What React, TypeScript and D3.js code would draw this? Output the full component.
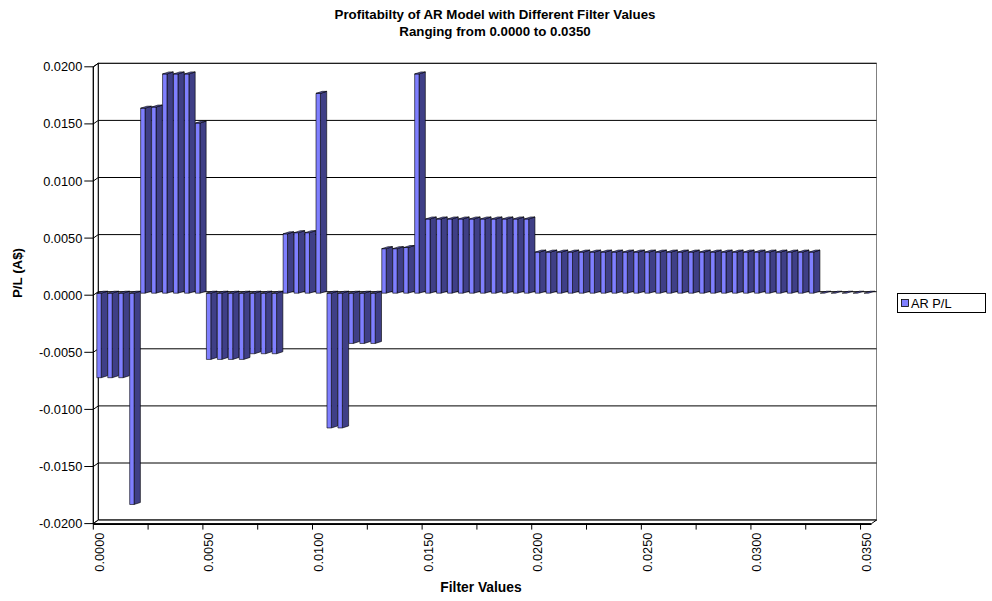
import React from "react";
import * as d3 from "d3";

const categories: string[] = Array.from({ length: 71 }, (_, i) => (i * 0.0005).toFixed(4));
const arPL: number[] = [
  -0.0074, -0.0074, -0.0074, -0.0185, 0.0162, 0.0163, 0.0192, 0.0192, 0.0192, 0.0149,
  -0.0058, -0.0058, -0.0058, -0.0058, -0.0053, -0.0053, -0.0053, 0.0052, 0.0053, 0.0053,
  0.0175, -0.0118, -0.0118, -0.0044, -0.0044, -0.0044, 0.0039, 0.0039, 0.004, 0.0192,
  0.0065, 0.0065, 0.0065, 0.0065, 0.0065, 0.0065, 0.0065, 0.0065, 0.0065, 0.0065,
  0.0036, 0.0036, 0.0036, 0.0036, 0.0036, 0.0036, 0.0036, 0.0036, 0.0036, 0.0036,
  0.0036, 0.0036, 0.0036, 0.0036, 0.0036, 0.0036, 0.0036, 0.0036, 0.0036, 0.0036,
  0.0036, 0.0036, 0.0036, 0.0036, 0.0036, 0.0036, 0, 0, 0, 0, 0,
];
const yTicks: number[] = [0.02, 0.015, 0.01, 0.005, 0, -0.005, -0.01, -0.015, -0.02];
const seriesName = "AR P/L";

const FONT = "Arial, 'Liberation Sans', sans-serif";

export default function App() {
  const W = 992, H = 601;
  const x = d3.scaleBand<string>().domain(categories).range([93.3, 871.5]).padding(0);
  const y = d3.scaleLinear().domain([-0.02, 0.02]).range([523.6, 66.8]);
  // depth offsets
  const backDx = 5, backDy = -3.5;
  const barDx = 3.5, barDy = -2;
  const fw = 4.4, sw = 6.3, dz = 2;
  const x0 = x.range()[0], x1 = x.range()[1];
  const yTop = y(0.02), yBot = y(-0.02);

  const bars = categories.map((c, i) => {
    const v = arPL[i];
    const bx = (x(c) as number) + barDx;
    const y0 = y(0) + barDy;
    const yv = y(v) + barDy;
    const top = Math.min(y0, yv);
    const bot = Math.max(y0, yv);
    const front = `M${bx},${top}H${bx + fw}V${bot}H${bx}Z`;
    const side = `M${bx + fw},${top}L${bx + fw + sw},${top - dz}L${bx + fw + sw},${bot - dz}L${bx + fw},${bot}Z`;
    const topFace = `M${bx},${top}L${bx + sw},${top - dz}L${bx + fw + sw},${top - dz}L${bx + fw},${top}Z`;
    return (
      <g key={c}>
        {bot - top > 0.01 && <path d={side} fill="#3f3f86" stroke="#000" strokeWidth={0.6} />}
        {bot - top > 0.01 && <path d={front} fill="#7f7fff" stroke="#000" strokeWidth={0.6} />}
        <path d={topFace} fill="#5a5ab8" stroke="#000" strokeWidth={0.6} />
      </g>
    );
  });

  return (
    <svg width={W} height={H} style={{ display: "block", position: "absolute", left: 0, top: 0 }} fontFamily={FONT}>
      <rect x={0} y={0} width={W} height={H} fill="#fff" />
      {/* title */}
      <text x={495} y={19} textAnchor="middle" fontSize={13.3} fontWeight="bold">
        Profitabilty of AR Model with Different Filter Values
      </text>
      <text x={495} y={36} textAnchor="middle" fontSize={13.3} fontWeight="bold">
        Ranging from 0.0000 to 0.0350
      </text>
      {/* back wall */}
      <rect x={x0 + backDx} y={yTop + backDy} width={x1 - x0} height={yBot - yTop} fill="#fff" stroke="#808080" strokeWidth={1} />
      {/* gridlines */}
      {yTicks.map((t) => (
        <g key={t}>
          <line x1={x0 + backDx} x2={x1 + backDx} y1={y(t) + backDy} y2={y(t) + backDy} stroke="#000" strokeWidth={1} />
          <line x1={x0} x2={x0 + backDx} y1={y(t)} y2={y(t) + backDy} stroke="#000" strokeWidth={1} />
        </g>
      ))}
      {/* left wall */}
      <path d={`M${x0},${yTop}L${x0 + backDx},${yTop + backDy}L${x0 + backDx},${yBot + backDy}L${x0},${yBot}Z`} fill="none" stroke="#000" strokeWidth={1} />
      {/* floor */}
      <path d={`M${x0},${yBot}L${x0 + backDx},${yBot + backDy}L${x1 + backDx},${yBot + backDy}L${x1},${yBot}Z`} fill="#fff" stroke="#000" strokeWidth={1} />
      <line x1={x0} x2={x1} y1={yBot + 0.8} y2={yBot + 0.8} stroke="#000" strokeWidth={1.2} />
      {/* bars */}
      {bars}
      {/* y axis */}
      <line x1={x0} x2={x0} y1={yTop} y2={yBot} stroke="#000" strokeWidth={1} />
      {yTicks.map((t) => (
        <g key={"yt" + t}>
          <line x1={x0 - 9} x2={x0} y1={y(t)} y2={y(t)} stroke="#000" strokeWidth={1} />
          <text x={x0 - 11} y={y(t) + 4.5} textAnchor="end" fontSize={12.8}>
            {t.toFixed(4)}
          </text>
        </g>
      ))}
      <text transform={`translate(22,273) rotate(-90)`} textAnchor="middle" fontSize={13.3} fontWeight="bold">
        P/L (A$)
      </text>
      {/* x axis ticks */}
      {categories.map((c, i) =>
        i % 5 === 0 ? (
          <line key={"xt" + c} x1={x(c) as number} x2={x(c) as number} y1={yBot} y2={yBot + 6} stroke="#000" strokeWidth={1} />
        ) : null
      )}
      {categories.map((c, i) =>
        i % 10 === 0 ? (
          <text key={"xl" + c} transform={`translate(${(x(c) as number) + 10.5},${yBot + 9}) rotate(-90)`} textAnchor="end" fontSize={12.8}>
            {c}
          </text>
        ) : null
      )}
      <text x={481} y={592} textAnchor="middle" fontSize={13.8} fontWeight="bold">
        Filter Values
      </text>
      {/* legend */}
      <rect x={897.5} y={293.5} width={88} height={19} fill="#fff" stroke="#000" strokeWidth={1} />
      <rect x={901.5} y={299.5} width={7} height={7} fill="#7f7fff" stroke="#000" strokeWidth={0.8} />
      <text x={911} y={307.5} fontSize={12.8}>
        {seriesName}
      </text>
    </svg>
  );
}
